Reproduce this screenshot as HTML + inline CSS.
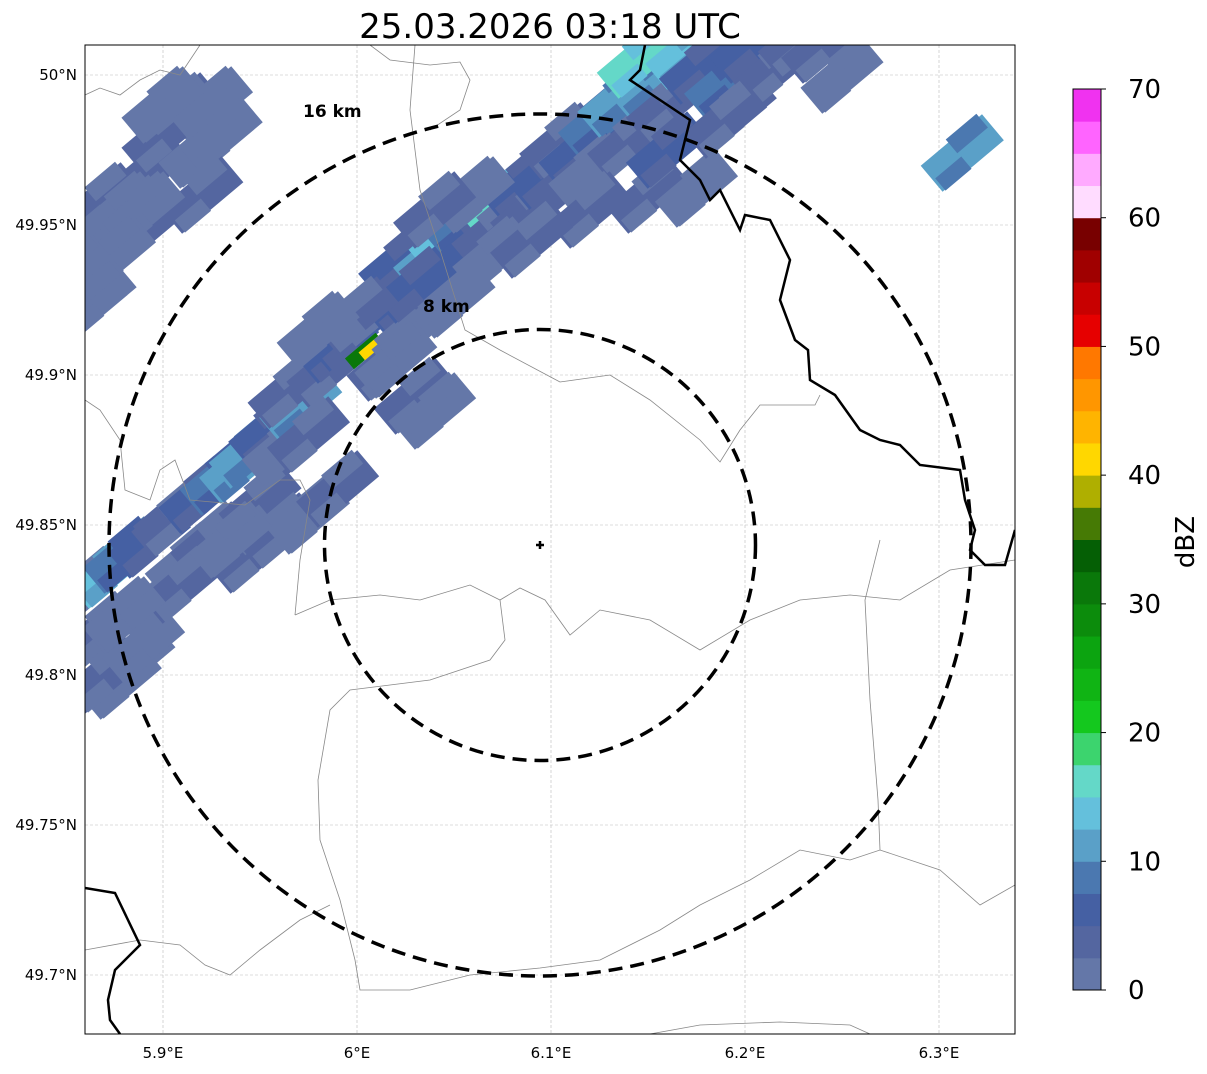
<!DOCTYPE html>
<html><head><meta charset="utf-8"><style>
body{margin:0;background:#fff;font-family:"Liberation Sans","DejaVu Sans",sans-serif}
svg text{font-family:"DejaVu Sans","Liberation Sans",sans-serif}
</style></head><body>
<svg id="s" width="1207" height="1069" xmlns="http://www.w3.org/2000/svg">
<text x="550" y="38" font-size="34" text-anchor="middle">25.03.2026 03:18 UTC</text>
<defs><clipPath id="mc"><rect x="85" y="45" width="930" height="989"/></clipPath></defs>
<g id="grid"></g>
<g id="echo" clip-path="url(#mc)"></g>
<g clip-path="url(#mc)" fill="none">
<path stroke="#888" stroke-width="0.8" d="M295,615 L330,600 L380,595 L420,600 L470,585 L500,600 L520,588 L545,600 L570,635 L600,610 L650,620 L700,650 L750,620 L800,600 L850,595 L900,600 L950,570 L1015,560"/>
<path stroke="#888" stroke-width="0.8" d="M415,45 L410,110 L420,190 L440,250 L465,330 L500,350 L560,382 L610,375 L650,400 L700,440 L720,462 L740,430 L760,405 L815,405 L820,395"/>
<path stroke="#888" stroke-width="0.8" d="M85,400 L100,410 L120,440 L125,490 L150,500 L160,470 L175,460 L190,500 L245,505 L280,480 L300,480 L310,500 L300,560 L295,615"/>
<path stroke="#888" stroke-width="0.8" d="M85,95 L100,88 L120,95 L140,80 L160,70 L180,75 L200,45"/>
<path stroke="#888" stroke-width="0.8" d="M370,45 L390,60 L430,65 L460,62 L470,80 L460,110 L430,130"/>
<path stroke="#888" stroke-width="0.8" d="M500,600 L505,640 L490,660 L430,680 L350,690 L330,710 L318,780 L320,840 L340,900 L355,960 L360,990 L410,990 L470,975 L540,968 L600,960 L660,930 L700,905 L750,880 L800,850 L850,860 L880,850 L940,870 L980,905 L1015,885"/>
<path stroke="#888" stroke-width="0.8" d="M880,540 L865,600 L870,700 L878,800 L880,850"/>
<path stroke="#888" stroke-width="0.8" d="M85,950 L140,940 L180,945 L205,965 L230,975 L260,950 L300,920 L330,905"/>
<path stroke="#888" stroke-width="0.8" d="M650,1034 L700,1025 L780,1022 L850,1025 L870,1034"/>
<path stroke="#000" stroke-width="2.5" d="M645,45 L640,70 L630,80 L645,90 L690,120 L680,160 L700,180 L710,200 L720,190 L740,230 L745,215 L770,220 L790,260 L780,300 L795,340 L808,350 L810,380 L835,395 L860,430 L880,440 L900,445 L920,465 L960,470 L965,500 L975,530 L970,550 L985,565 L1005,565 L1015,530"/>
<path stroke="#000" stroke-width="2.5" d="M85,888 L115,893 L140,945 L115,970 L108,1000 L110,1020 L120,1034"/>
</g>
<g fill="none" stroke="#000" stroke-width="3.5" stroke-dasharray="14,8">
<circle cx="540" cy="545" r="431"/>
<circle cx="540" cy="545" r="215.5"/>
</g>
<path d="M536,545 h8 M540,541 v8" stroke="#000" stroke-width="2.5"/>
<text x="303" y="117" font-size="17" font-weight="bold">16 km</text>
<text x="423" y="312" font-size="17" font-weight="bold">8 km</text>
<rect x="85" y="45" width="930" height="989" fill="none" stroke="#000" stroke-width="1"/>
<g id="ticks" font-size="15"></g>
<g id="cbar"></g>
<text transform="translate(1194,542) rotate(-90)" font-size="26" text-anchor="middle">dBZ</text>
</svg>
<script>
const NS="http://www.w3.org/2000/svg";
const lonTicks=[5.9,6.0,6.1,6.2,6.3];
const lonLabels=["5.9°E","6°E","6.1°E","6.2°E","6.3°E"];
const latTicks=[50.0,49.95,49.9,49.85,49.8,49.75,49.7];
const latLabels=["50°N","49.95°N","49.9°N","49.85°N","49.8°N","49.75°N","49.7°N"];
const cbLevels=[0,2.5,5,7.5,10,12.5,15,17.5,20,22.5,25,27.5,30,32.5,35,37.5,40,42.5,45,47.5,50,52.5,55,57.5,60,62.5,65,67.5];
const cbColors=["#6477a8","#5466a0","#4560a3","#4b78b0","#5aa0c8","#64c0dc","#64d8c8","#3cd46e","#14c81e","#10b414","#0ca410","#0c8c0c","#0a780a","#055f05","#467a05","#afaf00","#ffd700","#ffb400","#ff9600","#ff7800","#e60000","#c80000","#a00000","#780000","#ffdcff","#ffaaff","#ff64ff","#f032f0"];
const cbTicks=[0,10,20,30,40,50,60,70];
const echoLon=[5.862,5.872,5.868,5.880,5.885,5.893,5.900,5.905,5.912,5.919,5.925,5.930,5.940,5.945,5.950,5.955,5.962,5.971,5.975,5.965,5.985,5.990,5.996,6.004,6.008,6.011,6.016,6.025,6.030,6.022,6.040,6.048,6.044,6.055,6.062,6.074,6.070,6.085,6.090,6.099,6.105,6.115,6.125,6.120,6.135,6.140,6.151,6.145,6.160,6.170,6.177,6.190,6.203,6.195,6.215,6.228,5.878,5.870,5.893,5.909,5.919,5.868,5.862,5.888,5.878,5.900,5.925,5.945,5.960,5.975,5.990,6.312,6.030,6.040,
 6.150,6.175,6.120,6.240,6.250,6.160,6.190,6.070,6.090,6.050,6.030,6.000,6.020,5.980,6.060,6.040,5.900,5.930,5.920,5.890,5.875,5.865,5.890,5.910,5.935,5.880];
const echoLat=[49.830,49.835,49.815,49.840,49.805,49.845,49.825,49.852,49.838,49.860,49.845,49.866,49.870,49.875,49.858,49.882,49.876,49.890,49.880,49.895,49.902,49.910,49.914,49.908,49.922,49.910,49.904,49.926,49.916,49.938,49.940,49.946,49.932,49.952,49.944,49.958,49.948,49.964,49.955,49.968,49.978,49.975,49.985,49.968,49.992,49.978,49.998,50.005,49.990,50.008,50.003,49.998,50.010,49.988,50.002,50.012,49.798,49.800,49.968,49.988,49.975,49.958,49.938,49.948,49.955,49.980,49.990,49.840,49.848,49.853,49.862,49.974,49.893,49.888,
 49.960,49.962,49.955,50.010,50.000,49.975,49.985,49.940,49.945,49.925,49.930,49.920,49.905,49.915,49.960,49.955,49.990,49.980,49.960,49.955,49.940,49.925,49.810,49.830,49.845,49.820];
const echoDbz=[4,13,3,8,2,5,4,3,2,6,4,8,12,11,3,6,2,11,3,4,3,5,6,30,4,40,3,6,2,5,12,13,4,8,5,15,3,5,4,6,3,5,8,2,12,4,10,16,3,13,5,9,6,3,4,3,2,3,3,4,2,3,2,3,2,3,2,4,3,2,3,12,3,2,
 3,2,4,3,2,6,3,2,3,2,5,3,2,1,2,3,1,2,3,1,2,1,2,3,1,2];
const X=lon=>163+(lon-5.9)*1940;
const Y=lat=>75+(50-lat)*3000;
const col=v=>{let i=0;for(let k=0;k<cbLevels.length;k++)if(v>=cbLevels[k])i=k;return cbColors[i];};
const grid=document.getElementById('grid'),ticks=document.getElementById('ticks');
lonTicks.forEach((t,i)=>{const x=X(t);
 const l=document.createElementNS(NS,'line');
 
 
 l.setAttribute('x1',x);l.setAttribute('x2',x);l.setAttribute('y1',45);l.setAttribute('y2',1034);l.setAttribute('stroke','#bbb');l.setAttribute('stroke-width','0.6');l.setAttribute('stroke-dasharray','3,2');grid.appendChild(l);
 const tx=document.createElementNS(NS,'text');
 
 
 tx.setAttribute('x',x);tx.setAttribute('y',1058);tx.setAttribute('text-anchor','middle');tx.textContent=lonLabels[i];ticks.appendChild(tx);});
latTicks.forEach((t,i)=>{const y=Y(t);
 const l=document.createElementNS(NS,'line');
 
 
 l.setAttribute('y1',y);l.setAttribute('y2',y);l.setAttribute('x1',85);l.setAttribute('x2',1015);l.setAttribute('stroke','#bbb');l.setAttribute('stroke-width','0.6');l.setAttribute('stroke-dasharray','3,2');grid.appendChild(l);
 const tx=document.createElementNS(NS,'text');
 
 
 tx.setAttribute('x',77);tx.setAttribute('y',y+5);tx.setAttribute('text-anchor','end');tx.textContent=latLabels[i];ticks.appendChild(tx);});
const echo=document.getElementById('echo');
echoLon.forEach((lo,i)=>{const x=X(lo),y=Y(echoLat[i]);
 const big=echoDbz[i]<20;
 [[0,0,big?80:40,big?34:14],[16,-12,40,18],[-20,10,34,16]].forEach((o,j)=>{
 if(!big&&j>0)return;
 const r=document.createElementNS(NS,'rect');
 
 
 r.setAttribute('x',x+o[0]-o[2]/2);r.setAttribute('y',y+o[1]-o[3]/2);r.setAttribute('width',o[2]);r.setAttribute('height',o[3]);
 r.setAttribute('fill',col(j==0?echoDbz[i]:Math.max(0,echoDbz[i]-2.5)));
 r.setAttribute('transform',`rotate(-40 ${x} ${y})`);echo.appendChild(r);});});
const cb=document.getElementById('cbar');
const CY=v=>990-v*(901/70);
cbLevels.forEach((lv,i)=>{const r=document.createElementNS(NS,'rect');
 
 
 r.setAttribute('x',1073);r.setAttribute('width',28);r.setAttribute('y',CY(lv+2.5));r.setAttribute('height',CY(lv)-CY(lv+2.5)+0.5);r.setAttribute('fill',cbColors[i]);cb.appendChild(r);});
const fr=document.createElementNS(NS,'rect');


fr.setAttribute('x',1073);fr.setAttribute('y',89);fr.setAttribute('width',28);fr.setAttribute('height',901);fr.setAttribute('fill','none');fr.setAttribute('stroke','#000');cb.appendChild(fr);
cbTicks.forEach(t=>{const tx=document.createElementNS(NS,'text');
 
 
 tx.setAttribute('x',1128);tx.setAttribute('y',CY(t)+9);tx.setAttribute('font-size','26');tx.textContent=t;cb.appendChild(tx);
 const l=document.createElementNS(NS,'line');
 
 
 l.setAttribute('x1',1101);l.setAttribute('x2',1106);l.setAttribute('y1',CY(t));l.setAttribute('y2',CY(t));l.setAttribute('stroke','#000');cb.appendChild(l);});
</script>
</body></html>
